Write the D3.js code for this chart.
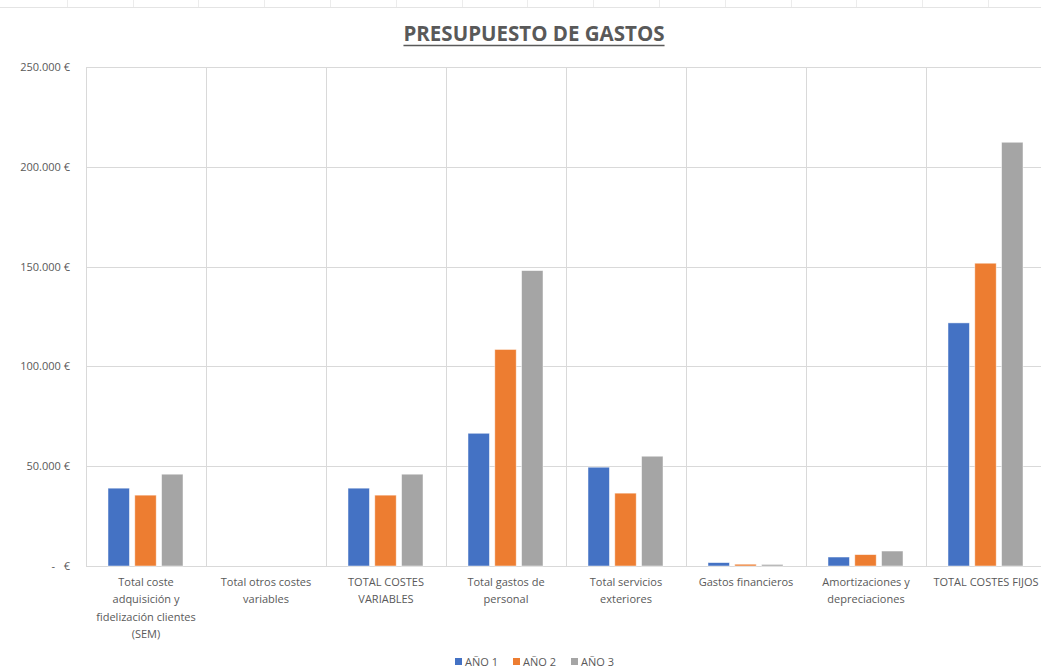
<!DOCTYPE html>
<html>
<head>
<meta charset="utf-8">
<script src="https://cdn.jsdelivr.net/npm/d3@7"></script>
<style>
  html, body { margin: 0; padding: 0; background: #fff; }
  svg { display: block; font-family: "Open Sans", "Liberation Sans", sans-serif; }
</style>
</head>
<body>
<svg id="chart" width="1041" height="672"></svg>
<script>
// Budget categories (line breaks mark how each label wraps under its band)
const categories = [
  "Total coste\nadquisición y\nfidelización clientes\n(SEM)",
  "Total otros costes\nvariables",
  "TOTAL COSTES\nVARIABLES",
  "Total gastos de\npersonal",
  "Total servicios\nexteriores",
  "Gastos financieros",
  "Amortizaciones y\ndepreciaciones",
  "TOTAL COSTES FIJOS"
];
const seriesNames = ["AÑO 1", "AÑO 2", "AÑO 3"];
const ano1 = [39000, 0, 39000, 66500, 49500, 1700, 4500, 121800];
const ano2 = [35500, 0, 35500, 108500, 36500, 900, 5700, 151700];
const ano3 = [46000, 0, 46000, 148000, 55000, 800, 7500, 212300];
const yTicks = [0, 50000, 100000, 150000, 200000, 250000];
const colors = ["#4472C4", "#ED7D31", "#A5A5A5"];

const series = [ano1, ano2, ano3];
const svg = d3.select("#chart");

const plot = { left: 86, right: 1046, top: 67, bottom: 566 };

const x = d3.scaleBand()
  .domain(d3.range(categories.length))
  .range([plot.left, plot.right])
  .paddingInner(0).paddingOuter(0);

const y = d3.scaleLinear().domain([0, 250000]).range([plot.bottom, plot.top]);

const xInner = d3.scaleBand()
  .domain(d3.range(series.length))
  .range([22, x.bandwidth() - 23])
  .paddingInner(0.2);

// Sheet cell border along the top edge
svg.append("line").attr("x1", 0).attr("x2", 1041).attr("y1", 7.5).attr("y2", 7.5)
  .attr("stroke", "#e4e4e4").attr("stroke-width", 1);
svg.append("g").selectAll("line")
  .data(d3.range(1, 16))
  .join("line")
  .attr("x1", d => Math.round(1 + d * 65.8) + 0.5)
  .attr("x2", d => Math.round(1 + d * 65.8) + 0.5)
  .attr("y1", 0).attr("y2", 7)
  .attr("stroke", "#ececec");

// Title
const title = svg.append("text")
  .attr("x", 534).attr("y", 41)
  .attr("text-anchor", "middle")
  .attr("font-size", 20.5).attr("font-weight", "bold")
  .attr("fill", "#595959")
  .text("PRESUPUESTO DE GASTOS");
const tb = title.node().getBBox();
svg.append("line")
  .attr("x1", tb.x).attr("x2", tb.x + tb.width)
  .attr("y1", 45.5).attr("y2", 45.5)
  .attr("stroke", "#595959").attr("stroke-width", 1.6);

// Horizontal gridlines
svg.append("g").selectAll("line")
  .data(yTicks)
  .join("line")
  .attr("x1", plot.left).attr("x2", plot.right)
  .attr("y1", d => Math.round(y(d)) + 0.5)
  .attr("y2", d => Math.round(y(d)) + 0.5)
  .attr("stroke", "#d9d9d9").attr("stroke-width", 1);

// Vertical band separators
svg.append("g").selectAll("line")
  .data(d3.range(categories.length + 1))
  .join("line")
  .attr("x1", d => Math.round(plot.left + d * x.bandwidth()) + 0.5)
  .attr("x2", d => Math.round(plot.left + d * x.bandwidth()) + 0.5)
  .attr("y1", plot.top).attr("y2", plot.bottom)
  .attr("stroke", "#d9d9d9").attr("stroke-width", 1);

// Y axis labels
const fmt = v => v === 0 ? "-   €" : d3.format(",")(v).replace(/,/g, ".") + " €";
svg.append("g").selectAll("text")
  .data(yTicks)
  .join("text")
  .attr("x", 70).attr("y", d => y(d) + 4)
  .attr("text-anchor", "end")
  .attr("font-size", 11).attr("fill", "#595959")
  .style("white-space", "pre")
  .text(fmt);

// Bars
const groups = svg.append("g").selectAll("g")
  .data(series)
  .join("g")
  .attr("fill", (d, i) => colors[i]);
groups.each(function(vals, si) {
  d3.select(this).selectAll("rect")
    .data(vals)
    .join("rect")
    .attr("x", (v, ci) => x(ci) + xInner(si))
    .attr("width", xInner.bandwidth())
    .attr("y", v => y(v))
    .attr("height", v => y(0) - y(v))
    .attr("stroke", "#ffffff").attr("stroke-opacity", 0.6).attr("stroke-width", 0.8);
});

// Category labels
const labels = svg.append("g").selectAll("text")
  .data(categories)
  .join("text")
  .attr("x", (d, i) => x(i) + x.bandwidth() / 2)
  .attr("y", 586)
  .attr("text-anchor", "middle")
  .attr("font-size", 11).attr("fill", "#595959");
labels.each(function(d) {
  d3.select(this).selectAll("tspan")
    .data(d.split("\n"))
    .join("tspan")
    .attr("x", d3.select(this).attr("x"))
    .attr("dy", (t, i) => i === 0 ? 0 : 17.3)
    .text(t => t);
});

// Legend
const legend = svg.append("g");
const legendX = [455, 513, 571];
seriesNames.forEach((name, i) => {
  legend.append("rect")
    .attr("x", legendX[i]).attr("y", 658)
    .attr("width", 7).attr("height", 7)
    .attr("fill", colors[i]);
  legend.append("text")
    .attr("x", legendX[i] + 10).attr("y", 665.5)
    .attr("font-size", 11).attr("fill", "#595959")
    .text(name);
});
</script>
</body>
</html>
